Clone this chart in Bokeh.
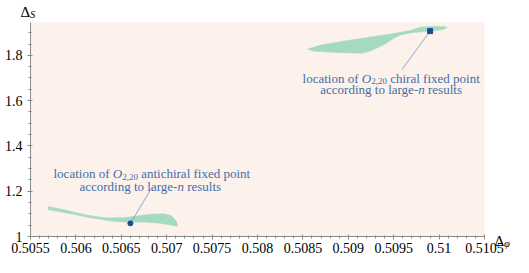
from bokeh.plotting import figure
from bokeh.models import Range1d, FixedTicker, Label, CustomJSTickFormatter, BoxAnnotation
from bokeh.embed import file_html
from bokeh.resources import INLINE

# ---- data ----
x_ticks = [0.5055, 0.506, 0.5065, 0.507, 0.5075, 0.508, 0.5085, 0.509, 0.5095, 0.51, 0.5105]
y_ticks = [1.0, 1.2, 1.4, 1.6, 1.8]

# chiral allowed region (outline: upper edge then lower edge)
chiral_x = [0.508558, 0.508703, 0.508920, 0.509211, 0.509501, 0.509683, 0.509792, 0.509937,
            0.510064, 0.510089, 0.510046, 0.509901, 0.509719, 0.509574, 0.509501, 0.509392,
            0.509283, 0.509211, 0.509138, 0.508847, 0.508630, 0.508558]
chiral_y = [1.829, 1.846, 1.861, 1.879, 1.896, 1.910, 1.924, 1.928,
            1.927, 1.922, 1.914, 1.906, 1.901, 1.890, 1.875, 1.847,
            1.826, 1.815, 1.809, 1.813, 1.818, 1.826]

# antichiral allowed region
anti_x = [0.505696, 0.505870, 0.506088, 0.506306, 0.506524, 0.506669, 0.506815, 0.506960,
          0.507050, 0.507105, 0.507123, 0.507105, 0.506924, 0.506742, 0.506597, 0.506379,
          0.506161, 0.505943, 0.505696]
anti_y = [1.132, 1.118, 1.097, 1.083, 1.083, 1.090, 1.098, 1.101,
          1.093, 1.069, 1.048, 1.046, 1.059, 1.064, 1.062, 1.069,
          1.083, 1.101, 1.118]

# large-n fixed points
chiral_pt = (0.509901, 1.907)
anti_pt = (0.50660, 1.058)

# annotation anchors
anti_leader = (0.506840, 1.218)
chiral_leader = (0.509588, 1.736)
anti_text1 = (0.506406, 1.277)
anti_text2 = (0.507118, 1.222)
chiral_text1 = (0.509149, 1.6995)
chiral_text2 = (0.509770, 1.649)

X0, X1 = 0.5055, 0.5105      # plotted data window
Y0, Y1 = 1.0, 1.945
VX0, VX1 = 0.5051696, 0.51081938   # whole canvas
VY0, VY1 = 0.90727, 2.04215

FONT = "Liberation Serif"
TXT = "#3d6fa8"
AXC = "#8a8a8a"

p = figure(width=513, height=257, output_backend="svg", toolbar_location=None,
           x_range=Range1d(VX0, VX1), y_range=Range1d(VY0, VY1),
           min_border=0)
p.background_fill_color = "white"
p.border_fill_color = "white"
p.outline_line_color = None
p.grid.visible = False

p.add_layout(BoxAnnotation(left=X0, right=X1, bottom=Y0, top=Y1, fill_color="#fdf1ec",
                           fill_alpha=1.0, line_color=None, level="underlay"))

fmt = CustomJSTickFormatter(code="return String(Math.round(tick*10000)/10000);")
p.xaxis.ticker = FixedTicker(ticks=x_ticks,
                             minor_ticks=[round(X0 + i * 0.0001, 4) for i in range(51)])
p.yaxis.ticker = FixedTicker(ticks=y_ticks,
                             minor_ticks=[round(Y0 + i * 0.05, 2) for i in range(19)])
p.xaxis.fixed_location = Y0
p.yaxis.fixed_location = X0
p.xaxis.bounds = (X0, X1)
p.yaxis.bounds = (Y0, Y1)
for ax in (p.xaxis[0], p.yaxis[0]):
    ax.formatter = fmt
    ax.axis_line_color = AXC
    ax.major_tick_line_color = AXC
    ax.minor_tick_line_color = AXC
    ax.major_tick_in = 2
    ax.major_tick_out = 3
    ax.minor_tick_in = 1
    ax.minor_tick_out = 2
    ax.major_label_text_font = FONT
    ax.major_label_text_font_size = "14px"
    ax.major_label_text_color = "black"
p.xaxis.major_label_standoff = 3
p.yaxis.major_label_standoff = 5

# regions
p.patch(chiral_x, chiral_y, fill_color="#a6d9c2", line_color="#a6d9c2", line_width=0.5)
p.patch(anti_x, anti_y, fill_color="#a6d9c2", line_color="#a6d9c2", line_width=0.5)

# leader lines
p.line([anti_leader[0], anti_pt[0]], [anti_leader[1], anti_pt[1]], line_color="#6f97c6", line_width=0.8)
p.line([chiral_leader[0], chiral_pt[0]], [chiral_leader[1], chiral_pt[1]], line_color="#6f97c6", line_width=0.8)

# points
p.scatter([anti_pt[0]], [anti_pt[1]], marker="circle", size=5, color="#14508e")
p.scatter([chiral_pt[0]], [chiral_pt[1]], marker="square", size=5, color="#14508e")


def lab(x, y, text, dx=0, dy=0, size="13px", style="normal", align="left", color=TXT):
    p.add_layout(Label(x=x, y=y, x_offset=dx, y_offset=dy, text=text, text_font=FONT,
                       text_font_size=size, text_font_style=style, text_color=color,
                       text_align=align, text_baseline="alphabetic"))


def o220_line(anchor, rest):
    x, y = anchor
    lab(x, y, "location of", dx=-3.3, align="right")
    lab(x, y, "O", style="italic")
    lab(x, y, "2,20", dx=9.4, dy=-3, size="9px")
    lab(x, y, rest, dx=28.4)


def n_line(anchor):
    x, y = anchor
    lab(x, y, "according to large-", align="right")
    lab(x, y, "n", style="italic")
    lab(x, y, "results", dx=9.8)


o220_line(anti_text1, "antichiral fixed point")
n_line(anti_text2)
o220_line(chiral_text1, "chiral fixed point")
n_line(chiral_text2)

# axis titles
lab(X0, Y1, "\u0394", dx=-10, dy=11, size="15px", color="black")
lab(X0, Y1, "S", dx=-0.5, dy=8.5, size="10.5px", style="italic", color="black")
lab(X1, Y0, "\u0394", dx=10, dy=-4, size="15px", color="black")
lab(X1, Y0, "\u03c6", dx=19.5, dy=-7, size="10.5px", style="italic", color="black")

open("out.html", "w").write(file_html(p, INLINE))
